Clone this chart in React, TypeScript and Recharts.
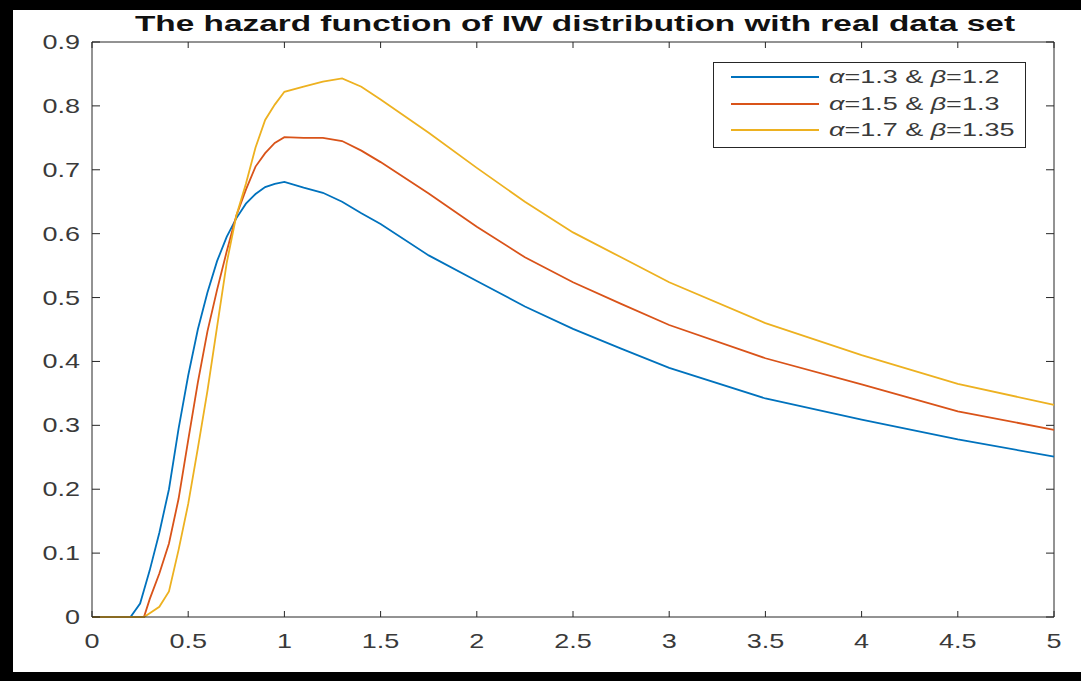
import React from "react";
import { LineChart, Line, XAxis, YAxis, ReferenceLine } from "recharts";

// x grid and hazard values for the three parameter sets
const xs = [0, 0.2, 0.25, 0.27, 0.3, 0.35, 0.4, 0.45, 0.5, 0.55, 0.6, 0.65, 0.7, 0.75, 0.8, 0.85, 0.9, 0.95, 1.0, 1.1, 1.2, 1.3, 1.4, 1.5, 1.75, 2.0, 2.25, 2.5, 2.75, 3.0, 3.5, 4.0, 4.5, 5.0];
const hazardA = [0, 0, 0.021, 0.042, 0.073, 0.132, 0.2, 0.295, 0.378, 0.45, 0.508, 0.557, 0.595, 0.624, 0.647, 0.662, 0.673, 0.678, 0.681, 0.672, 0.664, 0.65, 0.632, 0.615, 0.566, 0.526, 0.486, 0.451, 0.42, 0.39, 0.342, 0.309, 0.278, 0.251];
const hazardB = [0, 0, 0, 0, 0.028, 0.068, 0.115, 0.185, 0.277, 0.367, 0.447, 0.512, 0.572, 0.628, 0.669, 0.705, 0.726, 0.742, 0.751, 0.75, 0.75, 0.745, 0.73, 0.712, 0.663, 0.611, 0.563, 0.524, 0.49, 0.457, 0.405, 0.364, 0.322, 0.293];
const hazardC = [0, 0, 0, 0, 0.006, 0.016, 0.04, 0.105, 0.177, 0.264, 0.354, 0.454, 0.554, 0.628, 0.678, 0.735, 0.778, 0.802, 0.822, 0.83, 0.838, 0.843, 0.83, 0.81, 0.758, 0.703, 0.65, 0.602, 0.563, 0.524, 0.46, 0.41, 0.365, 0.332];

const xTicks = [0, 0.5, 1, 1.5, 2, 2.5, 3, 3.5, 4, 4.5, 5];
const yTicks = [0, 0.1, 0.2, 0.3, 0.4, 0.5, 0.6, 0.7, 0.8, 0.9];

const legendItems = [
  { key: "a", color: "#0072BD", alpha: "1.3", beta: "1.2" },
  { key: "b", color: "#D95319", alpha: "1.5", beta: "1.3" },
  { key: "c", color: "#EDB120", alpha: "1.7", beta: "1.35" },
];

const data = xs.map((x, i) => ({ x, a: hazardA[i], b: hazardB[i], c: hazardC[i] }));

const W = 1081;
const H = 681;
const PLOT_TOP = 42;
const PLOT_BOTTOM = 617;
const PLOT_LEFT = 92;
const PLOT_RIGHT = 1054;
const AXIS = "#262626";
const LABEL = "#3a3a3a";
const FONT = "'Liberation Sans', Arial, Helvetica, sans-serif";
const STRETCH = 1.35;

function XTick(props: any) {
  const { x, payload } = props;
  return (
    <g>
      <line x1={x} y1={PLOT_BOTTOM} x2={x} y2={PLOT_BOTTOM - 6} stroke={AXIS} />
      <line x1={x} y1={PLOT_TOP} x2={x} y2={PLOT_TOP + 6} stroke={AXIS} />
      <text
        transform={`translate(${x},${PLOT_BOTTOM + 31}) scale(${STRETCH},1)`}
        textAnchor="middle"
        fontSize={20}
        fontFamily={FONT}
        fill={LABEL}
      >
        {String(payload.value)}
      </text>
    </g>
  );
}

function YTick(props: any) {
  const { y, payload } = props;
  return (
    <g>
      <line x1={PLOT_LEFT} y1={y} x2={PLOT_LEFT + 8} y2={y} stroke={AXIS} />
      <line x1={PLOT_RIGHT} y1={y} x2={PLOT_RIGHT - 8} y2={y} stroke={AXIS} />
      <text
        transform={`translate(${PLOT_LEFT - 12},${y + 7}) scale(${STRETCH},1)`}
        textAnchor="end"
        fontSize={20}
        fontFamily={FONT}
        fill={LABEL}
      >
        {String(payload.value)}
      </text>
    </g>
  );
}

function HazardLegend() {
  return (
    <div
      style={{
        position: "absolute",
        left: 713,
        top: 62,
        width: 311,
        height: 84,
        border: `1px solid ${AXIS}`,
        background: "#fff",
        fontFamily: FONT,
        color: LABEL,
      }}
    >
      {legendItems.map((item, i) => (
        <div
          key={item.key}
          style={{ position: "absolute", left: 0, top: 3 + i * 26.5, height: 22, width: "100%" }}
        >
          <div
            style={{
              position: "absolute",
              left: 17,
              top: 10,
              width: 88,
              height: 2,
              background: item.color,
            }}
          />
          <div
            style={{
              position: "absolute",
              left: 115,
              top: 0,
              fontSize: 19,
              lineHeight: "22px",
              whiteSpace: "nowrap",
              transform: "scaleX(1.42)",
              transformOrigin: "left center",
            }}
          >
            <i>α</i>={item.alpha} &amp; <i>β</i>={item.beta}
          </div>
        </div>
      ))}
    </div>
  );
}

export default function App() {
  return (
    <div style={{ position: "fixed", left: 0, top: 0, width: W, height: H, background: "#fff", overflow: "hidden" }}>
      <LineChart
        width={W}
        height={H}
        data={data}
        margin={{ top: PLOT_TOP, right: W - PLOT_RIGHT, bottom: H - PLOT_BOTTOM - 40, left: PLOT_LEFT - 60 }}
      >
        <XAxis
          dataKey="x"
          type="number"
          domain={[0, 5]}
          ticks={xTicks}
          interval={0}
          height={40}
          tickSize={0}
          tickMargin={0}
          tickLine={false}
          axisLine={{ stroke: AXIS }}
          tick={<XTick />}
        />
        <YAxis
          type="number"
          domain={[0, 0.9]}
          ticks={yTicks}
          interval={0}
          width={60}
          tickSize={0}
          tickMargin={0}
          tickLine={false}
          axisLine={{ stroke: AXIS }}
          tick={<YTick />}
        />
        {/* closing top and right edges of the axes box */}
        <ReferenceLine y={0.9} stroke={AXIS} ifOverflow="visible" />
        <ReferenceLine x={5} stroke={AXIS} ifOverflow="visible" />
        {legendItems.map((item) => (
          <Line
            key={item.key}
            type="linear"
            dataKey={item.key}
            stroke={item.color}
            strokeWidth={1.8}
            dot={false}
            isAnimationActive={false}
          />
        ))}
      </LineChart>

      <svg width={W} height={H} style={{ position: "absolute", left: 0, top: 0, pointerEvents: "none" }}>
        <text
          x={575}
          y={31}
          textAnchor="middle"
          fontSize={22}
          fontWeight="bold"
          fontFamily={FONT}
          fill="#111"
          textLength={880}
          lengthAdjust="spacingAndGlyphs"
        >
          The hazard function of IW distribution with real data set
        </text>
      </svg>

      <HazardLegend />

      {/* black frame along the top, left and bottom */}
      <div style={{ position: "absolute", left: 0, top: 0, width: W, height: 10, background: "#000" }} />
      <div style={{ position: "absolute", left: 0, top: 0, width: 13, height: H, background: "#000" }} />
      <div style={{ position: "absolute", left: 0, top: 672, width: W, height: 9, background: "#000" }} />
    </div>
  );
}
